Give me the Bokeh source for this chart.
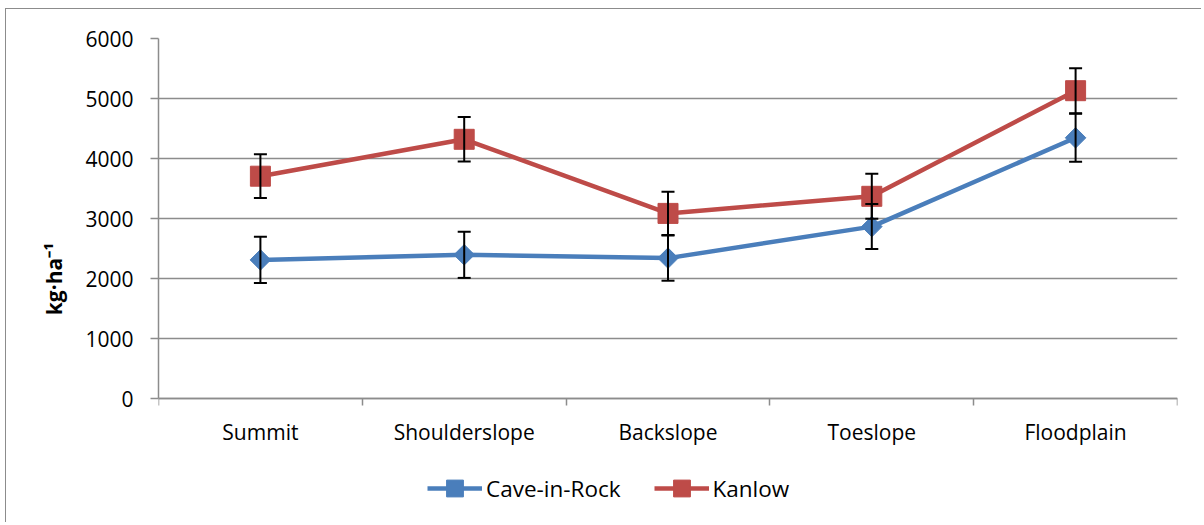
from bokeh.plotting import figure
from bokeh.models import (Range1d, FixedTicker, Whisker, TeeHead, ColumnDataSource,
                          Legend, LegendItem)
from bokeh.embed import file_html
from bokeh.resources import INLINE

categories = ["Summit", "Shoulderslope", "Backslope", "Toeslope", "Floodplain"]
cave = [2310, 2395, 2340, 2865, 4345]
cave_err = [385, 385, 377, 375, 400]
kanlow = [3705, 4320, 3085, 3370, 5130]
kanlow_err = [365, 370, 360, 375, 375]
y_ticks = [0, 1000, 2000, 3000, 4000, 5000, 6000]

FONT = "Open Sans"
BLUE = "#4A7EBB"
RED = "#BE4B48"
GRID = "#8c8c8c"

# layout (canvas pixels)
W, H = 1196, 514
LEFT, RIGHT, TOP, BOTTOM = 152, 25, 29, 4
ZERO_PX = 389                      # canvas y of value 0
ymax = y_ticks[-1]
ymin = -(H - BOTTOM - ZERO_PX) * ymax / (ZERO_PX - TOP)

xs = [i + 0.5 for i in range(len(categories))]

p = figure(width=W, height=H, output_backend="svg", toolbar_location=None,
           title=None, x_range=Range1d(0, len(categories)), y_range=Range1d(ymin, ymax),
           min_border_left=LEFT, min_border_right=RIGHT, min_border_top=TOP,
           min_border_bottom=BOTTOM)
p.styles = {"margin-left": "5px", "margin-top": "8px",
            "border-left": "1px solid #8c8c8c", "border-top": "1px solid #8c8c8c"}
p.outline_line_color = None
p.background_fill_color = "white"
p.border_fill_color = "white"

# axes
xa = p.xaxis[0]
xa.fixed_location = 0
xa.ticker = FixedTicker(ticks=xs, minor_ticks=list(range(len(categories) + 1)))
xa.major_label_overrides = {x: c for x, c in zip(xs, categories)}
xa.major_tick_line_color = None
xa.major_tick_out = 0
xa.major_tick_in = 0
xa.minor_tick_line_color = GRID
xa.minor_tick_line_width = 1.5
xa.minor_tick_out = 7
xa.minor_tick_in = 0
xa.axis_line_color = GRID
xa.axis_line_width = 1.5
xa.major_label_text_font = FONT
xa.major_label_text_font_size = "21px"
xa.major_label_text_color = "black"
xa.major_label_standoff = 12

ya = p.yaxis[0]
ya.bounds = (0, ymax)
ya.ticker = FixedTicker(ticks=y_ticks)
ya.major_tick_line_color = GRID
ya.major_tick_line_width = 1.5
ya.major_tick_out = 8
ya.major_tick_in = 0
ya.minor_tick_line_color = None
ya.axis_line_color = GRID
ya.axis_line_width = 1.5
ya.major_label_text_font = FONT
ya.major_label_text_font_size = "21px"
ya.major_label_text_color = "black"
ya.major_label_standoff = 17
ya.axis_label = "kg·ha⁻¹"
ya.axis_label_text_font = FONT
ya.axis_label_text_font_size = "21px"
ya.axis_label_text_font_style = "bold"
ya.axis_label_text_color = "black"
ya.axis_label_standoff = 14

p.xgrid.grid_line_color = None
p.ygrid.ticker = FixedTicker(ticks=y_ticks)
p.ygrid.grid_line_color = GRID
p.ygrid.grid_line_width = 1.5

# error bars
src_c = ColumnDataSource(dict(x=xs, y=cave,
                              lo=[v - e for v, e in zip(cave, cave_err)],
                              hi=[v + e for v, e in zip(cave, cave_err)]))
src_k = ColumnDataSource(dict(x=xs, y=kanlow,
                              lo=[v - e for v, e in zip(kanlow, kanlow_err)],
                              hi=[v + e for v, e in zip(kanlow, kanlow_err)]))
for src in (src_c, src_k):
    w = Whisker(base="x", lower="lo", upper="hi", source=src,
                line_color="black", line_width=2,
                upper_head=TeeHead(size=13, line_color="black", line_width=2),
                lower_head=TeeHead(size=13, line_color="black", line_width=2),
                level="glyph")
    p.add_layout(w)

lc = p.line("x", "y", source=src_c, line_color=BLUE, line_width=4.5)
mc = p.scatter("x", "y", source=src_c, marker="square", angle=0.785398,
               size=14.5, fill_color=BLUE, line_color=BLUE)
lk = p.line("x", "y", source=src_k, line_color=RED, line_width=4.5)
mk = p.scatter("x", "y", source=src_k, marker="square", size=20,
               fill_color=RED, line_color=RED)

GH = 42
legend = Legend(items=[LegendItem(label="Cave-in-Rock", renderers=[lc, mc]),
                       LegendItem(label="Kanlow", renderers=[lk, mk])],
                orientation="horizontal",
                location=(427 - 6 - LEFT, H - BOTTOM - (488 - 9) - GH // 2),
                glyph_width=55, glyph_height=GH, label_standoff=4, spacing=33,
                padding=0, margin=0, border_line_color=None,
                background_fill_alpha=0,
                label_text_font=FONT, label_text_font_size="22.5px",
                label_text_color="black", label_text_baseline="middle")
p.add_layout(legend, "center")

open("out.html", "w").write(file_html(p, INLINE))
